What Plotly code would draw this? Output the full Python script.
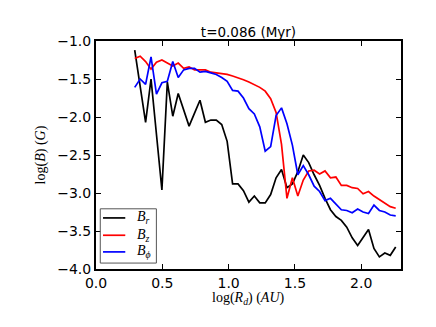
import plotly.graph_objects as go

# -- DATA --

log_r = [
    0.292, 0.333, 0.374, 0.415, 0.456, 0.497, 0.538, 0.579, 0.620, 0.661,
    0.702, 0.743, 0.784, 0.825, 0.866, 0.907, 0.948, 0.989, 1.030, 1.071,
    1.112, 1.153, 1.194, 1.235, 1.276, 1.317, 1.358, 1.399, 1.440, 1.481,
    1.522, 1.563, 1.604, 1.645, 1.686, 1.727, 1.768, 1.809, 1.850, 1.891,
    1.932, 1.973, 2.014, 2.055, 2.096, 2.137, 2.178, 2.219, 2.260,
]

b_r = [
    -1.12, -1.58, -2.07, -1.50, -2.20, -2.96, -1.54, -1.99, -1.69, -1.90,
    -2.12, -1.95, -1.78, -2.07, -2.04, -2.04, -2.10, -2.32, -2.88, -2.88,
    -2.97, -3.12, -3.04, -3.13, -3.13, -3.02, -2.80, -2.69, -2.93, -2.88,
    -2.72, -2.50, -2.60, -2.76, -2.90, -3.07, -3.22, -3.31, -3.36, -3.45,
    -3.59, -3.69, -3.58, -3.48, -3.73, -3.84, -3.79, -3.82, -3.71,
]

b_z = [
    -1.23, -1.20, -1.27, -1.37, -1.28, -1.25, -1.29, -1.33, -1.29, -1.36,
    -1.34, -1.38, -1.38, -1.38, -1.41, -1.42, -1.43, -1.44, -1.46, -1.48,
    -1.51, -1.54, -1.57, -1.61, -1.66, -1.76, -1.94, -2.36, -3.07, -2.80,
    -3.04, -2.83, -2.71, -2.70, -2.75, -2.71, -2.80, -2.79, -2.90, -2.90,
    -2.93, -2.94, -3.01, -2.98, -3.04, -3.09, -3.13, -3.18, -3.20,
]

b_phi = [
    -1.61, -1.50, -1.57, -1.21, -1.70, -1.55, -1.53, -1.27, -1.48, -1.38,
    -1.36, -1.36, -1.41, -1.40, -1.42, -1.44, -1.48, -1.53, -1.65, -1.66,
    -1.75, -1.89, -1.96, -2.13, -2.45, -2.39, -1.98, -1.88, -2.09, -2.37,
    -2.76, -2.64, -2.76, -2.91, -2.98, -3.10, -3.07, -3.15, -3.22, -3.23,
    -3.26, -3.21, -3.25, -3.27, -3.16, -3.23, -3.25, -3.29, -3.30,
]

series_names = ["<i>B</i><sub><i>r</i></sub>", "<i>B</i><sub><i>z</i></sub>", "<i>B</i><sub><i>\u03d5</i></sub>"]
series_colors = ["#000000", "#ff0000", "#0000ff"]

x_ticks = [0.0, 0.5, 1.0, 1.5, 2.0]
y_ticks = [-1.0, -1.5, -2.0, -2.5, -3.0, -3.5, -4.0]

SANS = "DejaVu Sans"
SERIF = "Liberation Serif"

# -- FIGURE --

fig = go.Figure()
for ys, name, color in zip([b_r, b_z, b_phi], series_names, series_colors):
    fig.add_trace(go.Scatter(
        x=log_r,
        y=ys,
        mode="lines",
        name=name,
        line=dict(color=color, width=1.7),
    ))

# hand-drawn legend box, matplotlib style
fig.add_shape(type="rect", xref="paper", yref="paper",
              x0=0.014, x1=0.198, y0=0.026, y1=0.264,
              line=dict(color="#555555", width=1), fillcolor="white", layer="above")
entry_y = [0.224, 0.148, 0.075]
for yy, name, color in zip(entry_y, series_names, series_colors):
    fig.add_shape(type="line", xref="paper", yref="paper",
                  x0=0.023, x1=0.096, y0=yy, y1=yy,
                  line=dict(color=color, width=1.7), layer="above")
    fig.add_annotation(x=0.128, y=yy, xref="paper", yref="paper",
                       text=name, showarrow=False, xanchor="left", yanchor="middle",
                       font=dict(family=SERIF, size=14, color="black"))

# x label sits tight under the tick labels, like the matplotlib original
fig.add_annotation(x=0.5, y=-0.13, xref="paper", yref="paper",
                   text="log(<i>R</i><sub><i>d</i></sub>) (<i>AU</i>)",
                   showarrow=False, xanchor="center", yanchor="middle",
                   font=dict(family=SERIF, size=14, color="black"))

axis_common = dict(
    showgrid=False,
    zeroline=False,
    showline=True,
    linecolor="black",
    linewidth=2,
    mirror="allticks",
    ticks="inside",
    ticklen=5,
    tickwidth=1,
    tickcolor="black",
    tickfont=dict(family=SANS, size=14, color="black"),
)

fig.update_xaxes(
    range=[0, 2.3],
    tickvals=x_ticks,
    tickformat=".1f",
    **axis_common,
)
fig.update_yaxes(
    range=[-4, -1],
    tickvals=y_ticks,
    tickformat=".1f",
    title=dict(text="log(<i>B</i>) (<i>G</i>)",
               font=dict(family=SERIF, size=14, color="black"), standoff=8),
    **axis_common,
)

fig.update_layout(
    width=436,
    height=327,
    showlegend=False,
    paper_bgcolor="white",
    plot_bgcolor="white",
    margin=dict(l=88, r=43, t=33, b=66),
    title=dict(text="t=0.086 (Myr)", x=0.5, xref="paper", y=0.927, yref="container",
               yanchor="middle", font=dict(family=SANS, size=13.5, color="black")),
)

fig.write_html("out.html")
